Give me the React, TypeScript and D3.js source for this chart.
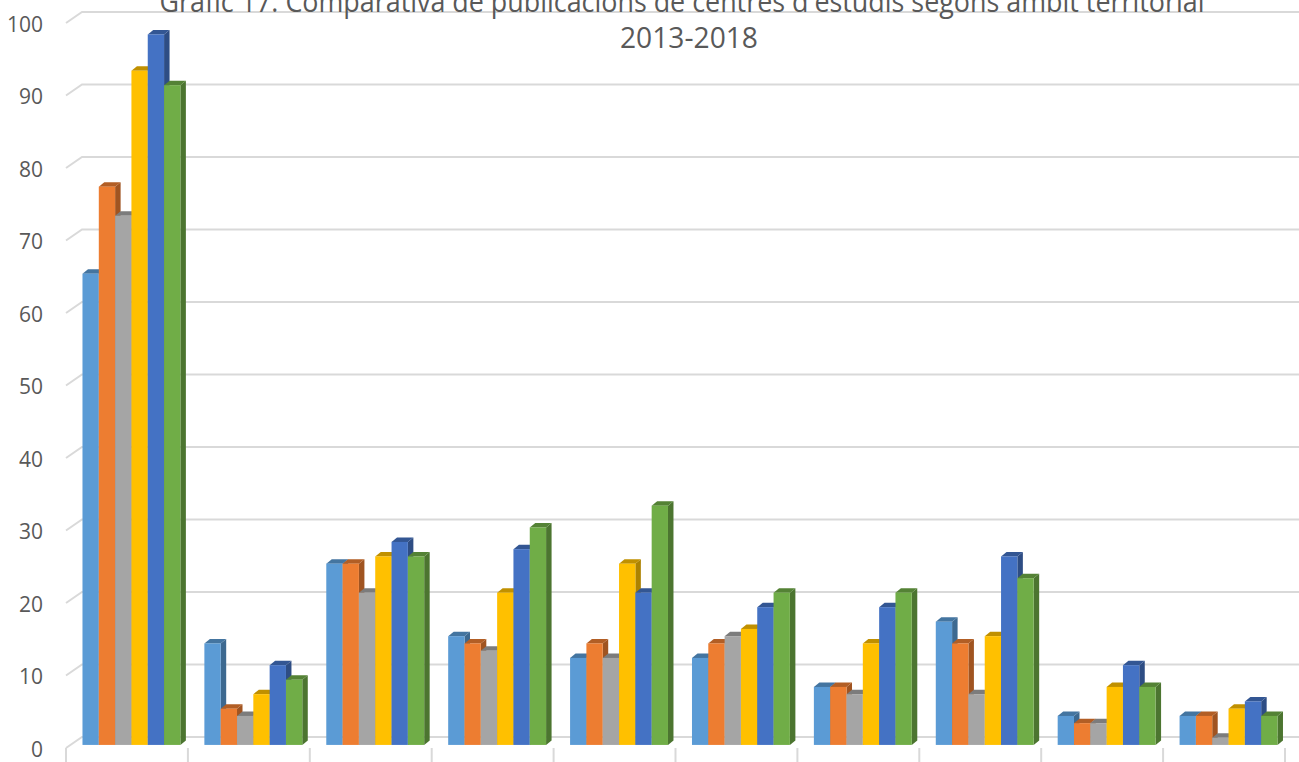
import React from "react";
import * as d3 from "d3";

// ambits (no labels shown in the chart)
const categories = ["A1", "A2", "A3", "A4", "A5", "A6", "A7", "A8", "A9", "A10"];
const years = ["2013", "2014", "2015", "2016", "2017", "2018"];
const colors = ["#5B9BD5", "#ED7D31", "#A5A5A5", "#FFC000", "#4472C4", "#70AD47"];

const s2013 = [65, 14, 25, 15, 12, 12, 8, 17, 4, 4];
const s2014 = [77, 5, 25, 14, 14, 14, 8, 14, 3, 4];
const s2015 = [73, 4, 21, 13, 12, 15, 7, 7, 3, 1];
const s2016 = [93, 7, 26, 21, 25, 16, 14, 15, 8, 5];
const s2017 = [98, 11, 28, 27, 21, 19, 19, 26, 11, 6];
const s2018 = [91, 9, 26, 30, 33, 21, 21, 23, 8, 4];
const series = [s2013, s2014, s2015, s2016, s2017, s2018];

const yTicks = [0, 10, 20, 30, 40, 50, 60, 70, 80, 90, 100];
const titleLine1 = "Gràfic 17. Comparativa de publicacions de centres d'estudis segons àmbit territorial";
const titleLine2 = "2013-2018";

const W = 1299;
const H = 762;
const left = 66;
const right = 1285;
const depthX = 16;
const depthY = -11;

const App = () => {
  // front floor edge scale
  const yFront = d3.scaleLinear().domain([0, 100]).range([748, 23]);
  // bars sit a little behind the front edge
  const barShiftX = depthX * 0.28;
  const barShiftY = depthY * 0.28;
  const barDX = 5.5;
  const barDY = -4.5;

  const x0 = d3.scaleBand().domain(categories).range([left, right]).padding(0);
  const x1 = d3
    .scaleBand()
    .domain(years)
    .range([12, x0.bandwidth() - 12])
    .padding(0);
  const bw = x1.bandwidth();

  const grey = "#595959";
  const gridColor = "#d9d9d9";

  return (
    <svg
      width={W}
      height={H}
      style={{ position: "absolute", left: 0, top: 0, background: "#fff" }}
      fontFamily="'Open Sans', sans-serif"
    >
      {/* gridlines: side wall slant + back wall */}
      {yTicks.map((t) => {
        const yf = yFront(t);
        const yb = yf + depthY;
        return (
          <g key={t}>
            <path
              d={`M${left},${yf}L${left + depthX},${yb}L${W},${yb}`}
              fill="none"
              stroke={gridColor}
              strokeWidth={2}
            />
            <text
              x={43}
              y={yf + 1.5}
              dy="0.35em"
              textAnchor="end"
              fontSize={21}
              fill={grey}
            >
              {t}
            </text>
          </g>
        );
      })}

      {/* category ticks on the floor edge */}
      {d3.range(categories.length + 1).map((i) => {
        const x = left + i * x0.bandwidth();
        return (
          <line
            key={i}
            x1={x}
            x2={x}
            y1={yFront(0)}
            y2={H}
            stroke={gridColor}
            strokeWidth={2}
          />
        );
      })}

      {/* 3D bars */}
      {categories.map((c, ci) => (
        <g key={c}>
          {years.map((yr, si) => {
            const v = series[si][ci];
            const bx = (x0(c) as number) + (x1(yr) as number) + barShiftX;
            const by0 = yFront(0) + barShiftY;
            const byT = yFront(v) + barShiftY;
            const base = d3.color(colors[si]) as d3.RGBColor;
            const side = base.darker(1.1).formatHex();
            const top = base.darker(0.8).formatHex();
            return (
              <g key={yr}>
                <path
                  d={`M${bx + bw},${by0}L${bx + bw + barDX},${by0 + barDY}L${bx + bw + barDX},${byT + barDY}L${bx + bw},${byT}Z`}
                  fill={side}
                />
                <path
                  d={`M${bx},${byT}L${bx + barDX},${byT + barDY}L${bx + bw + barDX},${byT + barDY}L${bx + bw},${byT}Z`}
                  fill={top}
                />
                <rect x={bx} y={byT} width={bw} height={by0 - byT} fill={colors[si]} />
              </g>
            );
          })}
        </g>
      ))}

      {/* title */}
      <text
        x={682}
        y={12}
        textAnchor="middle"
        fontSize={30}
        fill={grey}
        textLength={1045}
        lengthAdjust="spacingAndGlyphs"
      >
        {titleLine1}
      </text>
      <text
        x={689}
        y={48}
        textAnchor="middle"
        fontSize={30}
        fill={grey}
        textLength={138}
        lengthAdjust="spacingAndGlyphs"
      >
        {titleLine2}
      </text>
    </svg>
  );
};

export default App;
